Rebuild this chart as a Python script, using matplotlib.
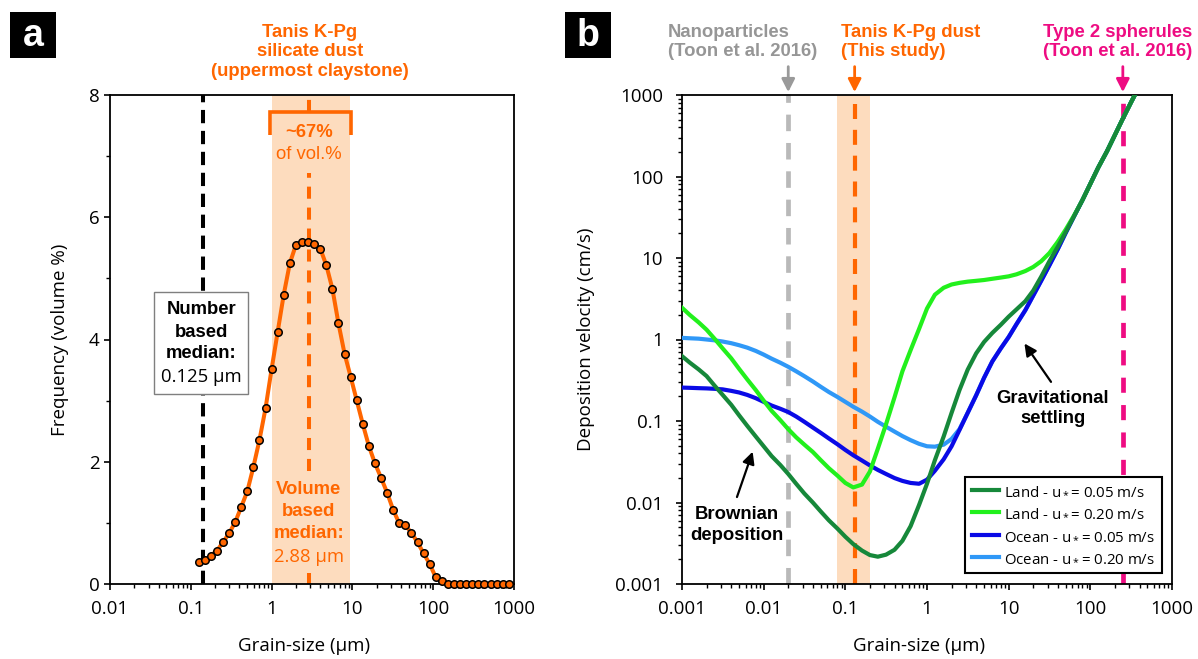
import numpy as np
import matplotlib
matplotlib.use("Agg")
import matplotlib.pyplot as plt
from matplotlib.patches import Rectangle
from matplotlib.ticker import FixedLocator, FixedFormatter, LogLocator, NullFormatter

# ------------------------------------------------------------------ data (a)
grain_a_um = [0.125, 0.1487, 0.1768, 0.2102, 0.25, 0.2973, 0.3536, 0.4204, 0.5, 0.5946,
              0.7071, 0.8409, 1.0, 1.189, 1.414, 1.682, 2.0, 2.378, 2.828, 3.364,
              4.0, 4.757, 5.657, 6.727, 8.0, 9.514, 11.31, 13.45, 16.0, 19.03,
              22.63, 26.91, 32.0, 38.05, 45.25, 53.82, 64.0, 76.11, 90.51, 107.6,
              128.0, 152.2, 181.0, 215.3, 256.0, 304.4, 362.0, 430.5, 512.0, 608.9,
              724.1, 861.1]
freq_vol_pct = [0.365, 0.387, 0.463, 0.545, 0.681, 0.828, 1.008, 1.259, 1.515, 1.913,
                2.354, 2.872, 3.515, 4.125, 4.736, 5.248, 5.548, 5.591, 5.597, 5.564,
                5.488, 5.215, 4.828, 4.262, 3.766, 3.390, 3.003, 2.616, 2.256, 1.973,
                1.738, 1.493, 1.210, 0.992, 0.959, 0.839, 0.681, 0.501, 0.327, 0.109,
                0.049, 0.0, 0.0, 0.0, 0.0, 0.0, 0.0, 0.0, 0.0, 0.0,
                0.0, 0.0]
number_median_um = 0.14
volume_median_um = 2.88
band_a_um = [1.0, 9.3]
bracket_a_um = [0.955, 9.6]
xticks_a = [0.01, 0.1, 1, 10, 100, 1000]
xticklabels_a = ["0.01", "0.1", "1", "10", "100", "1000"]
yticks_a = [0, 2, 4, 6, 8]
yticklabels_a = ["0", "2", "4", "6", "8"]

# ------------------------------------------------------------------ data (b)
grain_b_um = [0.001, 0.00125, 0.0016, 0.002, 0.0025, 0.00315, 0.004, 0.005, 0.0063, 0.008,
              0.01, 0.0125, 0.016, 0.02, 0.025, 0.0315, 0.04, 0.05, 0.063, 0.08,
              0.1, 0.125, 0.16, 0.2, 0.25, 0.315, 0.4, 0.5, 0.63, 0.8,
              1.0, 1.25, 1.6, 2.0, 2.5, 3.15, 4.0, 5.0, 6.3, 8.0,
              10, 12.5, 16, 20, 25, 31.5, 40, 50, 63, 80,
              100, 125, 160, 200, 250, 315, 400]
# log10 of deposition velocity (cm/s)
land_005_log10 = [-0.204, -0.285, -0.367, -0.449, -0.565, -0.68, -0.80, -0.93, -1.06, -1.19,
                  -1.31, -1.43, -1.54, -1.65, -1.77, -1.89, -2.00, -2.11, -2.22, -2.32,
                  -2.42, -2.51, -2.59, -2.645, -2.665, -2.64, -2.58, -2.47, -2.29, -2.03,
                  -1.77, -1.48, -1.19, -0.90, -0.62, -0.37, -0.17, -0.03, 0.08, 0.18,
                  0.28, 0.37, 0.47, 0.60, 0.77, 0.96, 1.14, 1.32, 1.51, 1.71,
                  1.91, 2.11, 2.31, 2.51, 2.71, 2.91, 3.11]
land_020_log10 = [0.39, 0.30, 0.21, 0.12, 0.01, -0.11, -0.23, -0.36, -0.49, -0.62,
                  -0.75, -0.875, -0.99, -1.10, -1.20, -1.29, -1.38, -1.48, -1.58, -1.67,
                  -1.76, -1.815, -1.78, -1.62, -1.34, -1.04, -0.71, -0.39, -0.13, 0.13,
                  0.38, 0.55, 0.635, 0.675, 0.695, 0.71, 0.72, 0.73, 0.745, 0.76,
                  0.775, 0.80, 0.84, 0.89, 0.96, 1.06, 1.20, 1.35, 1.52, 1.71,
                  1.91, 2.11, 2.31, 2.51, 2.71, 2.91, 3.11]
ocean_005_log10 = [-0.59, -0.593, -0.597, -0.60, -0.605, -0.612, -0.63, -0.65, -0.68, -0.72,
                   -0.765, -0.81, -0.85, -0.89, -0.945, -1.01, -1.08, -1.145, -1.215, -1.285,
                   -1.355, -1.42, -1.485, -1.545, -1.60, -1.65, -1.70, -1.735, -1.76, -1.77,
                   -1.72, -1.61, -1.47, -1.31, -1.11, -0.90, -0.685, -0.47, -0.27, -0.11,
                   0.03, 0.19, 0.36, 0.54, 0.72, 0.91, 1.11, 1.31, 1.51, 1.71,
                   1.91, 2.11, 2.31, 2.51, 2.71, 2.91, 3.11]
ocean_020_log10 = [0.02, 0.015, 0.01, 0.0, -0.01, -0.025, -0.045, -0.07, -0.10, -0.14,
                   -0.185, -0.235, -0.285, -0.335, -0.39, -0.45, -0.515, -0.58, -0.645, -0.705,
                   -0.765, -0.825, -0.885, -0.945, -1.01, -1.07, -1.13, -1.185, -1.235, -1.28,
                   -1.31, -1.315, -1.29, -1.22, -1.10, -0.90, -0.685, -0.47, -0.27, -0.11,
                   0.03, 0.19, 0.36, 0.54, 0.72, 0.91, 1.11, 1.31, 1.51, 1.71,
                   1.91, 2.11, 2.31, 2.51, 2.71, 2.91, 3.11]
series_labels = ["Land - u$_*$= 0.05 m/s", "Land - u$_*$= 0.20 m/s",
                 "Ocean - u$_*$= 0.05 m/s", "Ocean - u$_*$= 0.20 m/s"]
nano_um = 0.02
tanis_um = 0.13
spherule_um = 250
band_b_um = [0.08, 0.2]
ticks_b = [0.001, 0.01, 0.1, 1, 10, 100, 1000]
ticklabels_b = ["0.001", "0.01", "0.1", "1", "10", "100", "1000"]

# ------------------------------------------------------------------ style
ORANGE = "#ff6600"
SHADE = "#fddcbe"
GRAY_LINE = "#b9b9b9"
GRAY_TXT = "#969696"
PINK = "#ee0c82"
C_LAND05 = "#16883a"
C_LAND20 = "#22f01c"
C_OCN05 = "#0a0ae6"
C_OCN20 = "#2f98f7"
TF = "Open Sans"          # tick / axis font
AF = "Liberation Sans"    # annotation font
FS = 13.3

plt.rcParams["mathtext.default"] = "regular"
plt.rcParams["font.family"] = [TF, "DejaVu Sans"]

W, H = 1198, 659
fig = plt.figure(figsize=(W / 100, H / 100), dpi=100)
ax_a = fig.add_axes([110 / W, 75 / H, 404 / W, 489 / H])
ax_b = fig.add_axes([682 / W, 75 / H, 490 / W, 489 / H])


def style_axes(ax):
    for s in ax.spines.values():
        s.set_linewidth(1.3)
    ax.tick_params(which="major", direction="out", length=4.5, width=1.2,
                   labelsize=13.5, pad=7, top=False, right=False)
    ax.tick_params(which="minor", direction="out", length=2.6, width=1.0,
                   top=False, right=False)


# ================================================================== panel a
ax = ax_a
ax.set_xscale("log")
ax.set_xlim(0.01, 1000)
ax.set_ylim(0, 8)
ax.axvspan(band_a_um[0], band_a_um[1], color=SHADE, lw=0, zorder=0)
ax.plot([number_median_um] * 2, [0, 8], color="k", lw=2.9, dashes=(3.3, 1.9), zorder=2)
for seg in ([0, 0.18], [1.85, 6.72], [7.727, 8.0]):
    ax.plot([volume_median_um] * 2, seg, color=ORANGE, lw=2.9, dashes=(3.0, 2.2), zorder=2)
ax.plot(grain_a_um, freq_vol_pct, color=ORANGE, lw=2.9, marker="o", ms=5.4,
        mfc=ORANGE, mec="k", mew=1.1, clip_on=False, zorder=5)
ax.plot([bracket_a_um[0], bracket_a_um[0], bracket_a_um[1], bracket_a_um[1]],
        [7.345, 7.727, 7.727, 7.345], color=ORANGE, lw=2.6,
        solid_joinstyle="miter", solid_capstyle="butt", zorder=3)
ax.text(volume_median_um, 7.38, "~67%", ha="center", va="center", color=ORANGE,
        fontsize=FS, fontweight="bold", family=AF)
ax.text(volume_median_um, 7.02, "of vol.%", ha="center", va="center", color=ORANGE,
        fontsize=FS, family=AF)
for yv, s, bold in ((1.554, "Volume", True), (1.178, "based", True),
                    (0.818, "median:", True), (0.442, "2.88 µm", False)):
    ax.text(volume_median_um, yv, s, ha="center", va="center", color=ORANGE,
            fontsize=FS, fontweight="bold" if bold else "normal",
            family=AF if bold else TF)
# number-based median box
ax.add_patch(Rectangle((0.0353, 3.108), 0.515 - 0.0353, 1.664, facecolor="white",
                       edgecolor="#7f7f7f", lw=1.0, zorder=4))
for yv, s, bold in ((4.494, "Number", True), (4.118, "based", True),
                    (3.763, "median:", True), (3.382, "0.125 µm", False)):
    ax.text(0.135, yv, s, ha="center", va="center", color="k", fontsize=FS,
            fontweight="bold" if bold else "normal", family=AF if bold else TF, zorder=6)

ax.xaxis.set_major_locator(FixedLocator(xticks_a))
ax.xaxis.set_major_formatter(FixedFormatter(xticklabels_a))
ax.xaxis.set_minor_locator(LogLocator(base=10, subs=np.arange(2, 10), numticks=20))
ax.xaxis.set_minor_formatter(NullFormatter())
ax.yaxis.set_major_locator(FixedLocator(yticks_a))
ax.yaxis.set_major_formatter(FixedFormatter(yticklabels_a))
ax.yaxis.set_minor_locator(FixedLocator([1, 3, 5, 7]))
style_axes(ax)
ax.tick_params(axis="y", which="major", pad=3)
ax.set_xlabel("Grain-size (µm)", fontsize=13.5)
ax.set_ylabel("Frequency (volume %)", fontsize=13.5)
ax.xaxis.set_label_coords(0.48, -0.108)
ax.yaxis.set_label_coords(-0.101, 0.5)

fig.text(310 / W, 1 - 52 / H, "Tanis K-Pg\nsilicate dust\n(uppermost claystone)",
         ha="center", va="center", color=ORANGE, fontsize=FS, fontweight="bold",
         family=AF, linespacing=1.22)

# ================================================================== panel b
ax = ax_b
ax.set_xscale("log")
ax.set_yscale("log")
ax.set_xlim(0.001, 1000)
ax.set_ylim(0.001, 1000)
ax.axvspan(band_b_um[0], band_b_um[1], color=SHADE, lw=0, zorder=0)
ax.plot([nano_um] * 2, [0.001, 1000], color=GRAY_LINE, lw=3.4, dashes=(3.5, 2.5), zorder=1)
ax.plot([tanis_um] * 2, [0.001, 1000], color=ORANGE, lw=3.0, dashes=(3.6, 2.6), zorder=1)
ax.plot([spherule_um] * 2, [0.001, 1000], color=PINK, lw=3.4, dashes=(3.2, 2.6), zorder=1)

gb = np.array(grain_b_um)
h_o20, = ax.plot(gb, 10 ** np.array(ocean_020_log10), color=C_OCN20, lw=3.0, zorder=3)
h_o05, = ax.plot(gb, 10 ** np.array(ocean_005_log10), color=C_OCN05, lw=3.0, zorder=4)
h_l20, = ax.plot(gb, 10 ** np.array(land_020_log10), color=C_LAND20, lw=3.0, zorder=5)
h_l05, = ax.plot(gb, 10 ** np.array(land_005_log10), color=C_LAND05, lw=3.0, zorder=6)

leg = ax.legend([h_l05, h_l20, h_o05, h_o20], series_labels, loc="lower right",
                bbox_to_anchor=(0.98, 0.022), frameon=True, fancybox=False,
                edgecolor="k", framealpha=1, prop={"family": TF, "size": 10.8},
                handlelength=1.8, handletextpad=0.35, labelspacing=0.5,
                borderpad=0.45, borderaxespad=0)
leg.get_frame().set_linewidth(1.5)
leg.set_zorder(10)

# top arrows
for xv, c in ((nano_um, "#9a9a9a"), (tanis_um, ORANGE), (spherule_um, PINK)):
    ax.annotate("", xy=(xv, 1.006), xycoords=("data", "axes fraction"),
                xytext=(xv, 1.058), textcoords=("data", "axes fraction"),
                arrowprops=dict(arrowstyle="-|>,head_length=0.55,head_width=0.28",
                                color=c, lw=2.0, shrinkA=0, shrinkB=0, mutation_scale=14),
                annotation_clip=False)

# process annotations
ax.text(0.00471, 0.0053, "Brownian\ndeposition", ha="center", va="center",
        fontsize=FS, fontweight="bold", family=AF, linespacing=1.25, zorder=8)
ax.annotate("", xy=(0.00733, 0.042), xytext=(0.00471, 0.01167),
            arrowprops=dict(arrowstyle="-|>,head_length=0.6,head_width=0.3",
                            color="k", lw=1.6, shrinkA=0, shrinkB=0, mutation_scale=12))
ax.text(34.9, 0.1426, "Gravitational\nsettling", ha="center", va="center",
        fontsize=FS, fontweight="bold", family=AF, linespacing=1.25, zorder=8)
ax.annotate("", xy=(15.6, 0.893), xytext=(33.0, 0.302),
            arrowprops=dict(arrowstyle="-|>,head_length=0.6,head_width=0.3",
                            color="k", lw=1.6, shrinkA=0, shrinkB=0, mutation_scale=12))

for axis in (ax.xaxis, ax.yaxis):
    axis.set_major_locator(FixedLocator(ticks_b))
    axis.set_major_formatter(FixedFormatter(ticklabels_b))
    axis.set_minor_locator(LogLocator(base=10, subs=np.arange(2, 10), numticks=20))
    axis.set_minor_formatter(NullFormatter())
style_axes(ax)
ax.tick_params(axis="y", which="major", pad=9)
ax.set_xlabel("Grain-size (µm)", fontsize=13.5)
ax.set_ylabel("Deposition velocity (cm/s)", fontsize=13.5)
ax.xaxis.set_label_coords(0.484, -0.108)
ax.yaxis.set_label_coords(-0.178, 0.5)

fig.text(668 / W, 1 - 42 / H, "Nanoparticles\n(Toon et al. 2016)", ha="left",
         va="center", color=GRAY_TXT, fontsize=FS, fontweight="bold", family=AF,
         linespacing=1.22)
fig.text(841 / W, 1 - 42 / H, "Tanis K-Pg dust\n(This study)", ha="left",
         va="center", color=ORANGE, fontsize=FS, fontweight="bold", family=AF,
         linespacing=1.22)
fig.text(1192 / W, 1 - 42 / H, "Type 2 spherules\n(Toon et al. 2016)", ha="right",
         va="center", color=PINK, fontsize=FS, fontweight="bold", family=AF,
         linespacing=1.22)

# panel letters
for x0, letter in ((10, "a"), (565, "b")):
    fig.patches.append(Rectangle((x0 / W, 1 - 58 / H), 46 / W, 46 / H,
                                 transform=fig.transFigure, facecolor="k",
                                 edgecolor="none"))
    fig.text((x0 + 23) / W, 1 - 36 / H, letter, ha="center", va="center",
             color="white", fontsize=27, fontweight="bold", family=AF)

fig.savefig("out.png", dpi=100)
